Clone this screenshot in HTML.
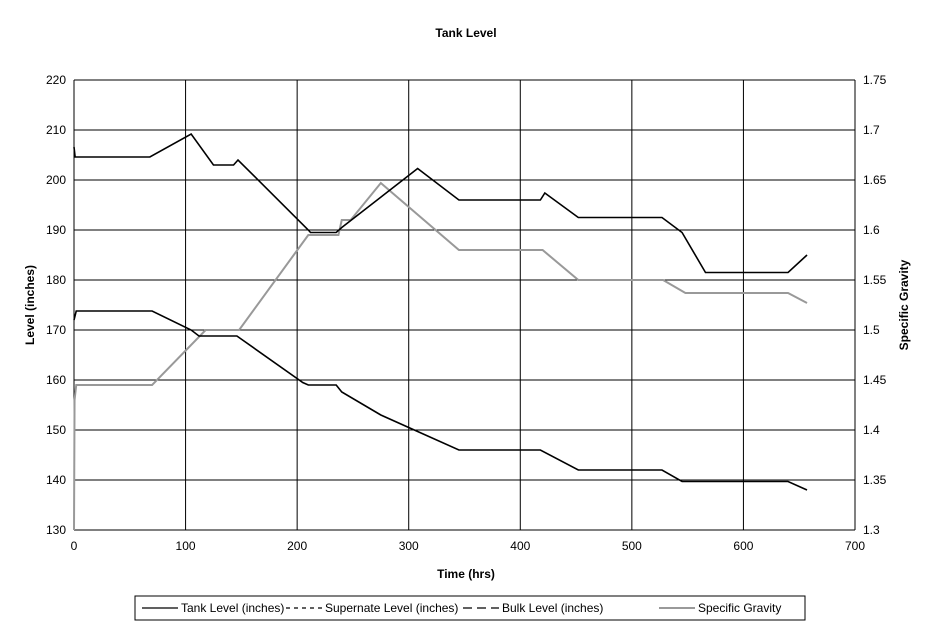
<!DOCTYPE html>
<html><head><meta charset="utf-8"><style>
body{margin:0;background:#fff;font-family:"Liberation Sans",Arial,sans-serif}
svg text{font-family:"Liberation Sans",Arial,sans-serif;font-size:12px}
</style></head><body>
<svg id="chart" width="933" height="629">
<text x="466" y="37" text-anchor="middle" font-weight="bold">Tank Level</text>
<g id="grid"></g>
<g id="series"></g>
<g id="axes"></g>
<text x="466" y="578" text-anchor="middle" font-weight="bold">Time (hrs)</text>
<text transform="translate(34,305) rotate(-90)" text-anchor="middle" font-weight="bold">Level (inches)</text>
<text transform="translate(908,305) rotate(-90)" text-anchor="middle" font-weight="bold">Specific Gravity</text>
<g>
<rect x="135" y="596" width="670" height="24" fill="none" stroke="#000"/>
<line x1="142" y1="608" x2="178" y2="608" stroke="#000" stroke-width="1.2"/>
<text x="181" y="612">Tank Level (inches)</text>
<line x1="286" y1="608" x2="322" y2="608" stroke="#000" stroke-width="1.2" stroke-dasharray="4,4"/>
<text x="325" y="612">Supernate Level (inches)</text>
<line x1="463" y1="608" x2="499" y2="608" stroke="#000" stroke-width="1.2" stroke-dasharray="9,5"/>
<text x="502" y="612">Bulk Level (inches)</text>
<line x1="659" y1="608" x2="695" y2="608" stroke="#999" stroke-width="2"/>
<text x="698" y="612">Specific Gravity</text>
</g>
</svg>
<script>
const xTicks=[0,100,200,300,400,500,600,700];
const yTicks=[130,140,150,160,170,180,190,200,210,220];
const y2Ticks=["1.3","1.35","1.4","1.45","1.5","1.55","1.6","1.65","1.7","1.75"];
const tankT=[0,1,68,105,125,143,147,210,212,235,240,308,345,418,422,452,527,545,566,640,657];
const tankV=[206.6,204.6,204.6,209.2,203,203,204,190,189.5,189.5,190.5,202.3,196,196,197.4,192.5,192.5,189.5,181.5,181.5,185];
const bulkT=[0,2,70,105,112,146,205,210,235,240,275,305,345,418,452,527,545,640,657];
const bulkV=[172,173.8,173.8,170,168.8,168.8,159.5,159,159,157.6,153,150,146,146,142,142,139.7,139.7,138];
const sgT=[0,0.5,2,70,118,148,210,237,240,248,275,345,420,452,528,548,640,657];
const sgV=[1.30,1.43,1.445,1.445,1.5,1.5,1.595,1.595,1.61,1.61,1.647,1.58,1.58,1.55,1.55,1.537,1.537,1.527];
const X0=74,X1=855,Y0=530,Y1=80;
const sx=t=>X0+(t-0)/700*(X1-X0);
const sy=v=>Y0-(v-130)/90*(Y0-Y1);
const sy2=v=>Y0-(v-1.3)/0.45*(Y0-Y1);
const NS="http://www.w3.org/2000/svg";
function mk(tag,attrs,parent){const e=document.createElementNS(NS,tag);for(const k in attrs)e.setAttribute(k,attrs[k]);parent.appendChild(e);return e;}
const grid=document.getElementById('grid'),axes=document.getElementById('axes'),ser=document.getElementById('series');
yTicks.forEach((v,i)=>{const y=sy(v);
 const l=mk('line',{x1:X0,x2:X1,y1:y,y2:y,stroke:'#000','stroke-width':1},grid);
 
 
 const t=mk('text',{x:X0-8,y:y+4,'text-anchor':'end'},axes);t.textContent=v;
 
 
 const t2=mk('text',{x:X1+8,y:y+4,'text-anchor':'start'},axes);t2.textContent=y2Ticks[i];
 
 
});
xTicks.forEach(v=>{const x=sx(v);
 const l=mk('line',{x1:x,x2:x,y1:Y1,y2:Y0,stroke:'#000','stroke-width':1},grid);
 
 
 const t=mk('text',{x:x,y:Y0+20,'text-anchor':'middle'},axes);t.textContent=v;
 
 
});
function line(T,V,f,color,w,name){
 const p=mk('polyline',{points:T.map((t,i)=>sx(t)+','+f(V[i])).join(' '),fill:'none',stroke:color,'stroke-width':w},ser);
 
 
}
line(sgT,sgV,sy2,'#999',2,'specific-gravity-line');
line(tankT,tankV,sy,'#000',1.6,'tank-level-line');
line(bulkT,bulkV,sy,'#000',1.6,'bulk-level-line');
</script>
</body></html>
